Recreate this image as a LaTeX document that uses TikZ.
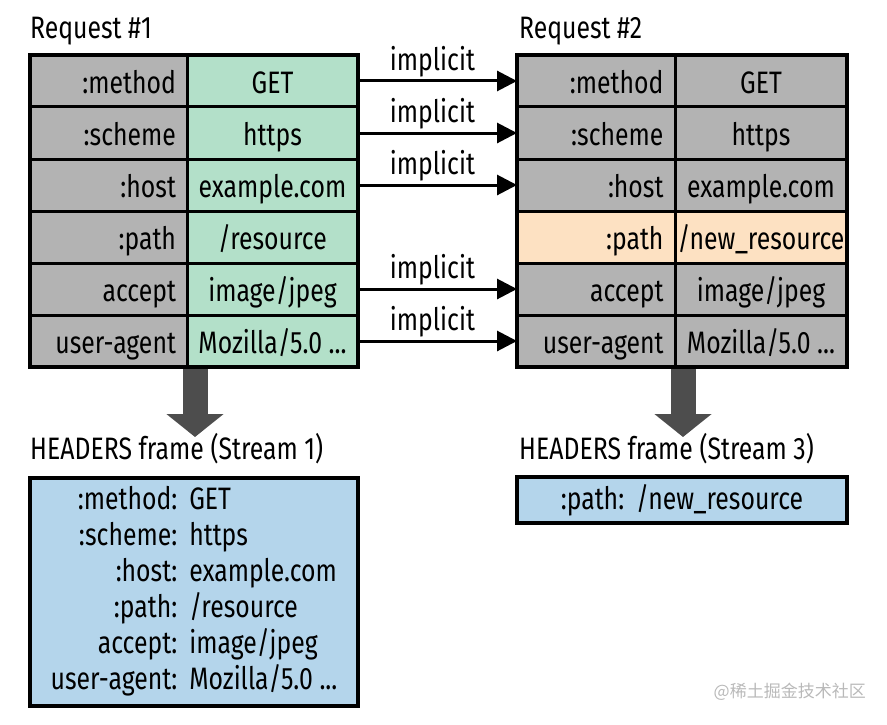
\documentclass[tikz,border=0pt]{standalone}
\usepackage{fontspec}
\setmainfont{Fira Sans}[FakeStretch=0.80]
\newfontfamily\cjkfont{Noto Sans CJK SC}
\usetikzlibrary{arrows.meta, calc}
\definecolor{cellgray}{HTML}{B3B3B3}
\definecolor{cellgreen}{HTML}{B3E0C9}
\definecolor{cellorange}{HTML}{FDE1C2}
\definecolor{frameblue}{HTML}{B4D5EB}
\definecolor{arrowgray}{HTML}{4D4D4D}
\newcommand{\resA}{/resource}
\newcommand{\resB}{/new\_resource}
\newcommand{\jpeg}{image/jpeg}
\newcommand{\moz}{Mozilla/5.0 ...}

\begin{document}
\begin{tikzpicture}[x=1pt, y=-1pt, line join=miter, font=\fontsize{31}{36}\selectfont,
	cell/.style={draw=black, line width=3pt, minimum height=52pt, inner sep=0pt, outer sep=0pt,
		text height=24pt, text depth=0pt},
	keycell/.style={cell, fill=cellgray, text width=135pt, align=right},
	valcell/.style={cell, fill=cellgreen, align=center},
	implarrow/.style={line width=3pt, -{Triangle[length=20pt, width=20pt]}},
	bigarrow/.style={draw=arrowgray, line width=25pt, -{Triangle[length=23pt, width=56pt]}},
	framebox/.style={draw=black, line width=4pt, fill=frameblue, inner sep=0pt}]
\useasboundingbox (0,0) rectangle (887,725);
%========================
% Left: request #1
%========================
\node[anchor=west, inner sep=0pt] (req1) at (30,31) {Request \#1};
\foreach \i/\k/\v in {1/:method/GET, 2/:scheme/https, 3/:host/example.com,
	4/:path/\resA, 5/accept/\jpeg, 6/user-agent/\moz} {
	\node[keycell, minimum width=157pt] (k1-\i) at (108.5,{29+52*\i}) {\k};
	\node[valcell, minimum width=171pt] (v1-\i) at (272.5,{29+52*\i}) {\v};
}
\draw[line width=4pt] (k1-1.north west) rectangle (v1-6.south east);

%========================
% Right: request #2
%========================
\node[anchor=west, inner sep=0pt] (req2) at (519,31) {Request \#2};
\foreach \i/\k/\v in {1/:method/GET, 2/:scheme/https, 3/:host/example.com,
	5/accept/\jpeg, 6/user-agent/\moz} {
	\node[keycell, fill=cellgray, minimum width=158pt] (k2-\i) at (596,{29+52*\i}) {\k};
	\node[valcell, fill=cellgray, minimum width=172pt] (v2-\i) at (761,{29+52*\i}) {\v};
}
% changed header
\node[keycell, fill=cellorange, minimum width=158pt] (k2-4) at (596,237) {:path};
\node[valcell, fill=cellorange, minimum width=172pt] (v2-4) at (761,237) {\resB};
\draw[line width=4pt] (k2-1.north west) rectangle (v2-6.south east);

% implicit headers
\foreach \i in {1,2,3,5,6}
	\draw[implarrow] (v1-\i.east) -- (k2-\i.west) node[midway, above=2pt, xshift=-5pt, inner sep=0pt] {implicit};

%========================
% HEADERS frames
%========================
\node[anchor=west, inner sep=0pt] (hf1) at (30,449) {HEADERS frame (Stream 1)};
\node[anchor=west, inner sep=0pt] (hf3) at (519,449) {HEADERS frame (Stream 3)};
\coordinate (tip1) at (195,437);
\coordinate (tip3) at (683,437);
\draw[bigarrow] ($(k1-6.south east)+(8,2)$) -- (tip1);
\draw[bigarrow] ($(k2-6.south east)+(8,2)$) -- (tip3);

\node[framebox, minimum width=328pt, minimum height=228pt] (hb1) at (194,592) {%
	\begin{tabular}{@{}r@{\hspace{12pt}}l@{}}
	:method: & GET\\
	:scheme: & https\\
	:host: & example.com\\
	:path: & /resource\\
	accept: & image/jpeg\\
	user-agent: & Mozilla/5.0 ...
	\end{tabular}};
\node[framebox, minimum width=330pt, minimum height=46pt] (hb3) at (682,500) {:path:\hspace{12pt}/new\_resource};

% watermark
\node[anchor=east, inner sep=0pt, text=gray!55, font=\cjkfont\fontsize{17}{17}\selectfont] (wm) at (866,692) {@稀土掘金技术社区};
\end{tikzpicture}
\end{document}
